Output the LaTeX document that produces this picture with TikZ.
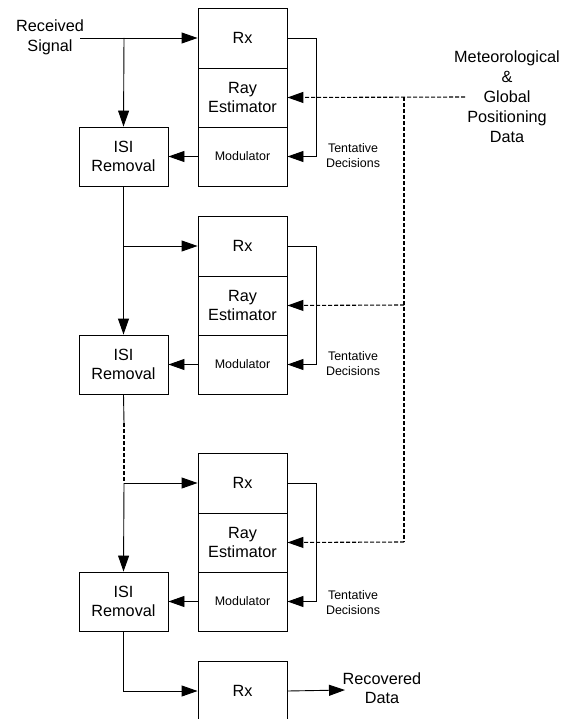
\documentclass[tikz,border=0pt]{standalone}
\usepackage{fontspec}
\setmainfont{Liberation Sans}
\usetikzlibrary{arrows.meta,calc}
\tikzset{
  blk/.style={draw, line width=0.9bp, minimum width=89bp, inner sep=0pt, align=center, font=\fontsize{16.3}{19.5}\selectfont},
  rxb/.style={blk, minimum height=60bp},
  rayb/.style={blk, minimum height=59bp},
  modb/.style={blk, minimum height=59bp, font=\fontsize{12.5}{15}\selectfont},
  isib/.style={blk, minimum height=59bp},
  big/.style={align=center, inner sep=0pt, font=\fontsize{16.3}{19.5}\selectfont},
  small/.style={align=center, inner sep=0pt, font=\fontsize{12.5}{15}\selectfont},
  conn/.style={line width=0.9bp, -{Triangle[length=16bp,width=11bp]}},
  plain/.style={line width=0.9bp},
  dconn/.style={line width=1.1bp, dash pattern=on 4bp off 2bp, -{Triangle[length=16bp,width=11bp]}},
  dplain/.style={line width=1.1bp, dash pattern=on 4bp off 2bp},
}
\begin{document}
\begin{tikzpicture}[x=1bp,y=-1bp]
\clip (0,0) rectangle (575,719);
\fill[white] (0,0) rectangle (575,719);
% Block 1
\node[rxb]  (Rx1)  at (242.5,38) {Rx};
\node[rayb] (Ray1) at (242.5,97.5) {Ray\\Estimator};
\node[modb] (Mod1) at (242.5,156.5) {Modulator};
\node[isib] (ISI1) at (123.5,156.5) {ISI\\Removal};
% Block 2
\node[rxb]  (Rx2)  at (242.5,246) {Rx};
\node[rayb] (Ray2) at (242.5,305.5) {Ray\\Estimator};
\node[modb] (Mod2) at (242.5,364.5) {Modulator};
\node[isib] (ISI2) at (123.5,364.5) {ISI\\Removal};
% Block 3
\node[rxb]  (Rx3)  at (242.5,483) {Rx};
\node[rayb] (Ray3) at (242.5,542.5) {Ray\\Estimator};
\node[modb] (Mod3) at (242.5,601.5) {Modulator};
\node[isib] (ISI3) at (123.5,601.5) {ISI\\Removal};
% Block 4
\node[rxb]  (Rx4)  at (242.5,691) {Rx};
% Texts
\node[big] (rs) at (50,37.5) {Received\\Signal};
\node[big] (rd) at (382,688) {Recovered\\Data};
\node[big,font=\fontsize{16.3}{20}\selectfont] (met) at (507,97) {Meteorological\\\&\\Global\\Positioning\\Data};
\node[small] (td1) at (353,156) {Tentative\\Decisions};
\node[small] (td2) at (353,364) {Tentative\\Decisions};
\node[small] (td3) at (353,603) {Tentative\\Decisions};
% coordinates
\coordinate (s) at (80,38);
\coordinate (j1) at (124,38);
\coordinate (j2) at (124,246);
\coordinate (d2a) at (124,423);
\coordinate (j3) at (124,483);
\coordinate (rdend) at (345,690);
\coordinate (ms) at (465,97);
\coordinate (v1) at (404,97);
\coordinate (v2) at (404,305);
\coordinate (v3) at (404,542);
% Main path
\draw[conn] (s) -- (Rx1.west);
\draw[conn] (j1) -- (ISI1.north);
\draw[conn] (Mod1.west) -- (ISI1.east);
\draw[conn] (Rx1.east) -- ++(29,0) |- (Mod1.east);
\draw[conn] (ISI1.south) -- (ISI2.north);
\draw[conn] (j2) -- (Rx2.west);
\draw[conn] (Mod2.west) -- (ISI2.east);
\draw[conn] (Rx2.east) -- ++(29,0) |- (Mod2.east);
\draw[plain] (ISI2.south) -- (d2a);
\draw[dplain] (d2a) -- (j3);
\draw[conn] (j3) -- (ISI3.north);
\draw[conn] (j3) -- (Rx3.west);
\draw[conn] (Mod3.west) -- (ISI3.east);
\draw[conn] (Rx3.east) -- ++(29,0) |- (Mod3.east);
\draw[conn] (ISI3.south) |- (Rx4.west);
\draw[conn] (Rx4.east) -- (rdend);
% Dashed data lines
\draw[dconn] (ms) -- (Ray1.east);
\draw[dplain] (v1) -- (v3);
\draw[dconn] (v2) -- (Ray2.east);
\draw[dconn] (v3) -- (Ray3.east);
\end{tikzpicture}
\end{document}
